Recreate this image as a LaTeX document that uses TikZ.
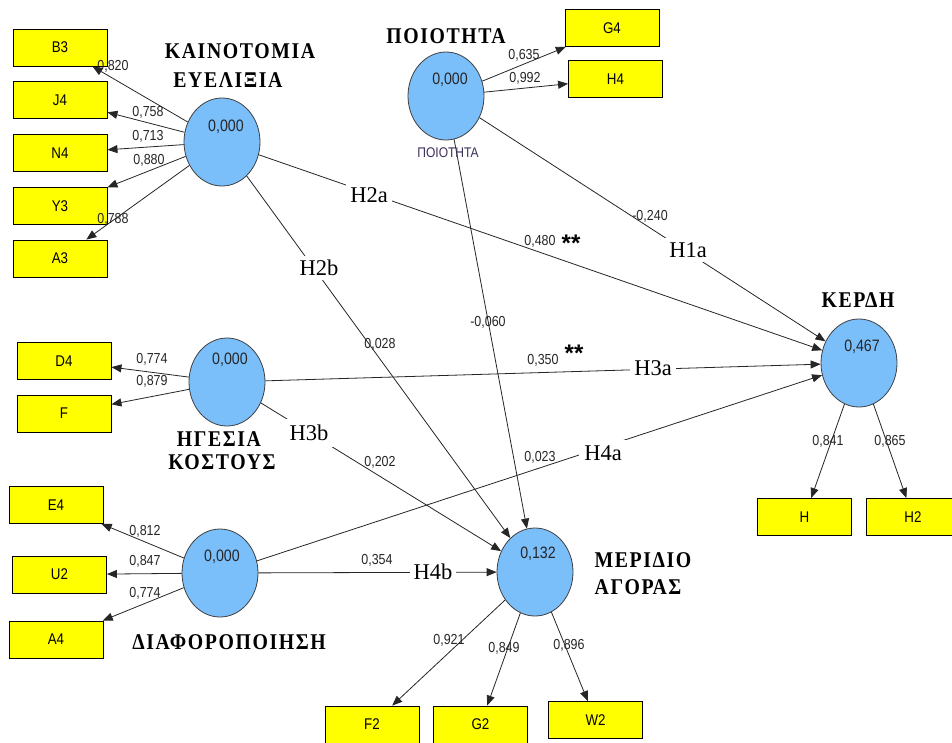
\documentclass[tikz,border=0pt]{standalone}
\usepackage{fontspec}
\setmainfont{Liberation Serif}
\setsansfont{Liberation Sans}
\newfontfamily\grk[LetterSpace=7,FakeStretch=0.88]{Liberation Serif}
\newfontfamily\sfn[FakeStretch=0.86]{Liberation Sans}
\usetikzlibrary{shapes.geometric,arrows.meta}
\definecolor{lvfill}{RGB}{122,190,250}
\definecolor{bxfill}{RGB}{255,255,0}
\definecolor{smallpurp}{RGB}{60,45,90}
\begin{document}
\begin{tikzpicture}[x=1pt,y=-1pt,
  lv/.style={ellipse,draw=black!75,fill=lvfill,line width=0.8pt,minimum width=76pt,minimum height=88pt,inner sep=0pt},
  ind/.style={rectangle,draw=black,line width=0.9pt,fill=bxfill,minimum width=94pt,minimum height=37pt,inner sep=0pt,font=\sfn\fontsize{15.5}{15.5}\selectfont},
  val/.style={font=\sfn\fontsize{16.5}{16.5}\selectfont,text=black!85,inner sep=0pt},
  ld/.style={font=\sfn\fontsize{14.5}{14.5}\selectfont,text=black!85,inner sep=0pt},
  gl/.style={font=\grk\bfseries\fontsize{22.5}{24}\selectfont,inner sep=0pt},
  hyp/.style={font=\fontsize{22.5}{22.5}\selectfont,fill=white,inner sep=4pt},
  stars/.style={font=\sffamily\bfseries\fontsize{24}{24}\selectfont,inner sep=0pt,anchor=base},
  ar/.style={draw=black!85,line width=0.8pt,-{Triangle[length=10pt,width=8pt]}},
]
\useasboundingbox (0,0) rectangle (952,742);
\fill[white] (0,0) rectangle (952,742);

% latent variables
\node[lv] (KAI) at (222,142) {};
\node[lv] (POI) at (446,96) {};
\node[lv] (HGE) at (227,382) {};
\node[lv] (DIA) at (220,573) {};
\node[lv] (MER) at (535,572) {};
\node[lv] (KER) at (859,363) {};

\node[val] (KAIv) at (226,127) {0,000};
\node[val] (POIv) at (450,80) {0,000};
\node[val] (HGEv) at (230,360) {0,000};
\node[val] (DIAv) at (222,557) {0,000};
\node[val] (MERv) at (538,554) {0,132};
\node[val] (KERv) at (862,347) {0,467};

% indicators
\node[ind] (B3) at (60,47.5) {B3};
\node[ind] (J4) at (60,100) {J4};
\node[ind] (N4) at (60,153) {N4};
\node[ind] (Y3) at (60,206) {Y3};
\node[ind] (A3) at (60,258.5) {A3};
\node[ind] (D4) at (64,361) {D4};
\node[ind] (F) at (64,413.5) {F};
\node[ind] (E4) at (56,505) {E4};
\node[ind] (U2) at (59.5,574.5) {U2};
\node[ind] (A4) at (56,639.5) {A4};
\node[ind] (G4) at (612,28) {G4};
\node[ind] (H4) at (615.5,79) {H4};
\node[ind] (F2) at (372,724.5) {F2};
\node[ind] (G2) at (480.5,724.5) {G2};
\node[ind] (W2) at (595.5,720) {W2};
\node[ind] (H) at (804.5,517) {H};
\node[ind] (H2) at (913,517) {H2};

% outer arrows
\foreach \t in {B3,J4,N4,Y3,A3} \draw[ar] (KAI) -- (\t);
\foreach \t in {D4,F} \draw[ar] (HGE) -- (\t);
\foreach \t in {E4,U2,A4} \draw[ar] (DIA) -- (\t);
\foreach \t in {G4,H4} \draw[ar] (POI) -- (\t);
\foreach \t in {F2,G2,W2} \draw[ar] (MER) -- (\t);
\foreach \t in {H,H2} \draw[ar] (KER) -- (\t);

% inner paths
\draw[ar] (KAI) -- (KER);
\draw[ar] (POI) -- (KER);
\draw[ar] (HGE) -- (KER);
\draw[ar] (DIA) -- (KER);
\draw[ar] (KAI) -- (MER);
\draw[ar] (HGE) -- (MER);
\draw[ar] (POI) -- (MER);
\draw[ar] (DIA) -- (MER);

% hypothesis labels
\node[hyp] (H2a) at (369,195) {H2a};
\node[hyp] (H1a) at (688,250) {H1a};
\node[hyp] (H3a) at (653,368) {H3a};
\node[hyp,inner sep=5pt] (H4a) at (603,453) {H4a};
\node[hyp] (H2b) at (319,268) {H2b};
\node[hyp,inner sep=6pt] (H3b) at (309,433) {H3b};
\node[hyp] (H4b) at (433,572) {H4b};

% path coefficients
\node[ld] (c480) at (540,241) {0,480};
\node[stars] (s1) at (571,251) {**};
\node[ld] (c240) at (650,216) {-0,240};
\node[ld] (c350) at (543,360) {0,350};
\node[stars] (s2) at (574,361) {**};
\node[ld] (c023) at (540,457) {0,023};
\node[ld] (c028) at (380,344) {0,028};
\node[ld] (c202) at (380,462) {0,202};
\node[ld] (c060) at (488,322) {-0,060};
\node[ld] (c354) at (377,560) {0,354};

% loadings
\node[ld] (lB3) at (113,66) {0,820};
\node[ld] (lJ4) at (148,112) {0,758};
\node[ld] (lN4) at (148,136) {0,713};
\node[ld] (lY3) at (149,160) {0,880};
\node[ld] (lA3) at (113,219) {0,788};
\node[ld] (lD4) at (152,359) {0,774};
\node[ld] (lF) at (152,381) {0,879};
\node[ld] (lE4) at (145,531) {0,812};
\node[ld] (lU2) at (145,561) {0,847};
\node[ld] (lA4) at (145,593) {0,774};
\node[ld] (lG4) at (524,55) {0,635};
\node[ld] (lH4) at (525,78) {0,992};
\node[ld] (lF2) at (449,640) {0,921};
\node[ld] (lG2) at (504,648) {0,849};
\node[ld] (lW2) at (569,645) {0,896};
\node[ld] (lH) at (828,441) {0,841};
\node[ld] (lH2) at (890,441) {0,865};

% construct names
\node[gl] (nKAI1) at (240,51) {ΚΑΙΝΟΤΟΜΙΑ};
\node[gl] (nKAI2) at (228,80) {ΕΥΕΛΙΞΙΑ};
\node[gl] (nPOI) at (446,36) {ΠΟΙΟΤΗΤΑ};
\node[font=\sfn\fontsize{14}{14}\selectfont,text=smallpurp,inner sep=0pt] (sPOI) at (448,153) {ΠΟΙΟΤΗΤΑ};
\node[gl] (nHGE1) at (219,439) {ΗΓΕΣΙΑ};
\node[gl] (nHGE2) at (222,462) {ΚΟΣΤΟΥΣ};
\node[gl] (nDIA) at (229,642) {ΔΙΑΦΟΡΟΠΟΙΗΣΗ};
\node[gl] (nMER1) at (643,560) {ΜΕΡΙΔΙΟ};
\node[gl] (nMER2) at (638,587) {ΑΓΟΡΑΣ};
\node[gl] (nKER) at (858,300) {ΚΕΡΔΗ};
\end{tikzpicture}
\end{document}
